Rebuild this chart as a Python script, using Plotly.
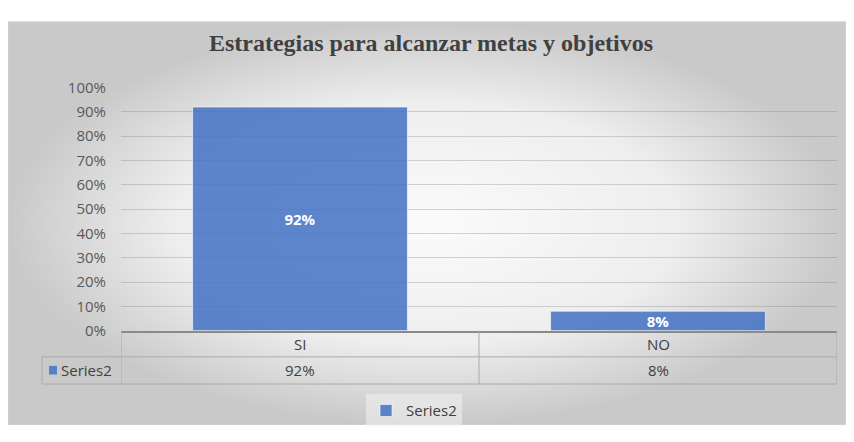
import plotly.graph_objects as go

categories = ["SI", "NO"]
values = [0.92, 0.08]
value_labels = ["92%", "8%"]
series_name = "Series2"
title_text = "Estrategias para alcanzar metas y objetivos"

# the page body has an 8px margin on every side: size the figure so the page is exactly 854x442
OFF = 8
W, H = 854 - 2 * OFF, 442 - 2 * OFF
BLUE = "rgba(68,114,196,0.86)"
TXT = "#404040"
LINE = "#ababab"
FONT = "Open Sans"


def px(p):
    return p - OFF


# plot area in (reference) pixels
PL, PR, PT, PB = px(121), px(837), px(80), px(335)
ROW1, ROW2 = px(362.5), px(391)
TABLE_LEFT = px(42)

fig = go.Figure()

# chart-area background (radial grey gradient), drawn on a pixel-space axis pair
fig.add_trace(go.Scatter(
    x=[0, W, W, 0, 0], y=[px(11), px(11), H, H, px(11)],
    fill="toself", mode="lines",
    line=dict(color="#d4d4d4", width=1),
    fillgradient=dict(type="radial", colorscale=[[0, "#fbfbfb"], [0.6, "#eeeeee"], [1, "#c9c9c9"]]),
    hoverinfo="skip", showlegend=False,
    xaxis="x", yaxis="y",
))

fig.add_trace(go.Bar(
    x=categories, y=values, name=series_name,
    xaxis="x2", yaxis="y2", width=0.6,
    marker=dict(color=BLUE, line=dict(color="rgba(255,255,255,0.6)", width=1)),
    text=value_labels, textposition="inside", insidetextanchor="middle",
    constraintext="none",
    textfont=dict(color="white", size=15, family=FONT, weight="bold"),
    hoverinfo="skip",
))

shapes = []


def hline(y, x0, x1, xref="x"):
    shapes.append(dict(type="line", xref=xref, yref="y", x0=x0, x1=x1, y0=y, y1=y,
                       line=dict(color=LINE, width=1)))


def vline(x, y0, y1, xref="x"):
    shapes.append(dict(type="line", xref=xref, yref="y", x0=x, x1=x, y0=y0, y1=y1,
                       line=dict(color=LINE, width=1)))


# data table grid
hline(ROW1, TABLE_LEFT, PR)
hline(ROW2, TABLE_LEFT, PR)
vline(TABLE_LEFT, ROW1, ROW2)
for b in [-0.5, 0.5, 1.5]:
    vline(b, PB, ROW2, xref="x2")
# legend key in the table
shapes.append(dict(type="rect", xref="x", yref="y", x0=px(49), x1=px(57), y0=px(372), y1=px(381),
                   fillcolor=BLUE, line=dict(width=0)))

annotations = []
for c, lab in zip(categories, value_labels):
    annotations.append(dict(x=c, y=(PB + ROW1) / 2, xref="x2", yref="y", text=c,
                            showarrow=False, font=dict(family=FONT, size=15, color=TXT)))
    annotations.append(dict(x=c, y=(ROW1 + ROW2) / 2, xref="x2", yref="y", text=lab,
                            showarrow=False, font=dict(family=FONT, size=15, color=TXT)))
annotations.append(dict(x=px(59), y=(ROW1 + ROW2) / 2, xref="x", yref="y", text=series_name,
                        xanchor="left", showarrow=False, font=dict(family=FONT, size=15, color=TXT)))

fig.update_layout(
    width=W, height=H,
    margin=dict(l=0, r=0, t=0, b=0),
    paper_bgcolor="white",
    plot_bgcolor="rgba(0,0,0,0)",
    title=dict(text="<b>" + title_text + "</b>", x=px(431) / W, xanchor="center",
               y=1 - px(43) / H, yanchor="middle",
               font=dict(family="Liberation Serif", size=24, color=TXT)),
    xaxis=dict(range=[0, W], domain=[0, 1], visible=False, fixedrange=True),
    yaxis=dict(range=[H, 0], domain=[0, 1], visible=False, fixedrange=True),
    xaxis2=dict(domain=[PL / W, PR / W], range=[-0.5, 1.5], anchor="y2",
                showticklabels=False, showgrid=False,
                showline=True, linecolor="#8a8a8a", linewidth=2),
    yaxis2=dict(domain=[1 - PB / H, 1 - PT / H], range=[0, 1], anchor="x2",
                dtick=0.1, tickformat=".0%", showline=False, zeroline=False,
                gridcolor="rgba(120,120,120,0.3)", gridwidth=1,
                ticklabelstandoff=14,
                tickfont=dict(family=FONT, size=15, color="#595959")),
    showlegend=True,
    legend=dict(orientation="h", x=px(414) / W, xanchor="center", y=1 - px(419) / H, yanchor="middle",
                bgcolor="rgba(246,246,246,0.5)", itemwidth=30,
                font=dict(family=FONT, size=15, color=TXT)),
    shapes=shapes,
    annotations=annotations,
    bargap=0.4,
)

fig.write_html("out.html")
